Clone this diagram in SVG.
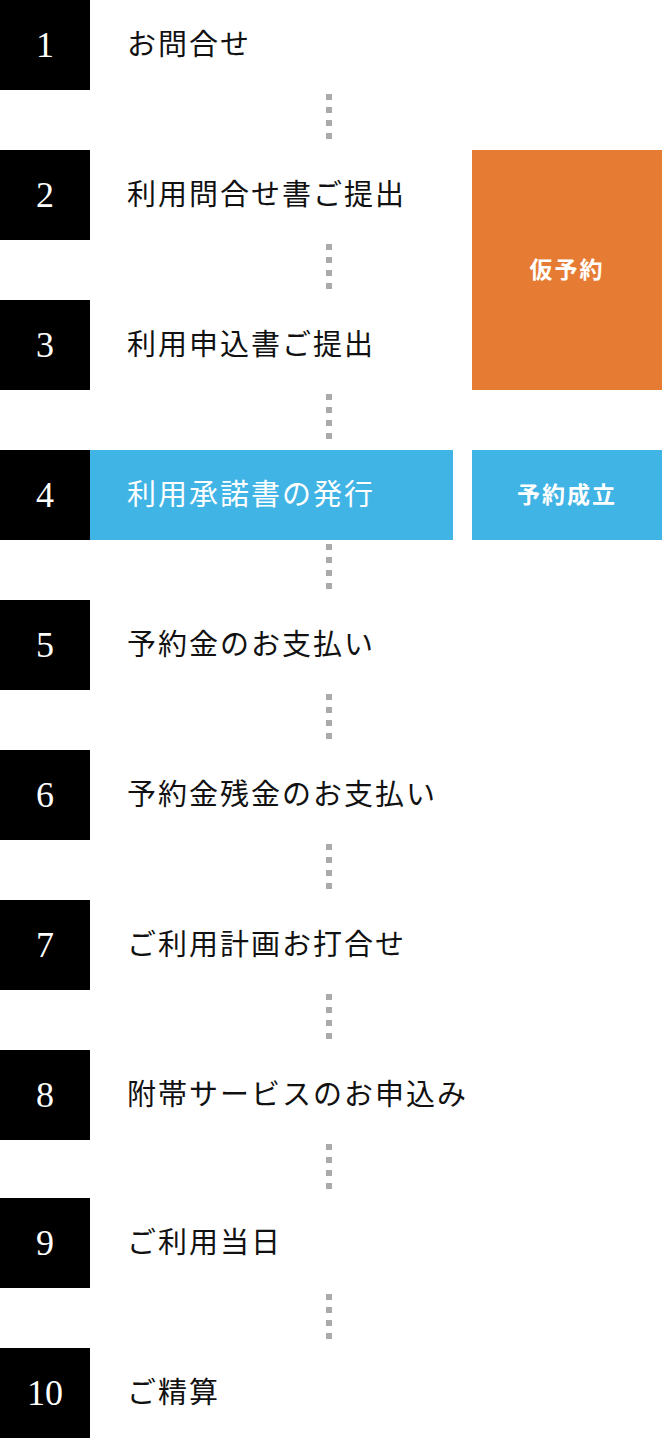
<svg xmlns="http://www.w3.org/2000/svg" width="662" height="1438" viewBox="0 0 662 1438">
<style>
.nb{fill:#000}
.num{font-family:"Liberation Serif",serif;font-size:36px;fill:#fff;text-anchor:middle}
.lb{font-family:"Noto Sans CJK JP",sans-serif;font-size:29px;fill:#111;letter-spacing:2px}
.tag{font-family:"Noto Sans CJK JP",sans-serif;font-size:23px;font-weight:bold;fill:#fff;text-anchor:middle;letter-spacing:2px}
.dot{stroke:#aaa;stroke-width:6;stroke-dasharray:6 7;fill:none}
</style>
<rect width="662" height="1438" fill="#fff"/>
<g id="connectors">
<line class="dot" x1="329" y1="94" x2="329" y2="146"/>
<line class="dot" x1="329" y1="244" x2="329" y2="296"/>
<line class="dot" x1="329" y1="394" x2="329" y2="446"/>
<line class="dot" x1="329" y1="544" x2="329" y2="596"/>
<line class="dot" x1="329" y1="694" x2="329" y2="746"/>
<line class="dot" x1="329" y1="844" x2="329" y2="896"/>
<line class="dot" x1="329" y1="994" x2="329" y2="1046"/>
<line class="dot" x1="329" y1="1144" x2="329" y2="1196"/>
<line class="dot" x1="329" y1="1294" x2="329" y2="1346"/>
</g>
<g id="tag-kari"><rect x="472" y="150" width="190" height="240" fill="#E67C34"/><text class="tag" x="567" y="278">仮予約</text></g>
<g id="tag-seiritsu"><rect x="472" y="450" width="190" height="90" fill="#41B4E6"/><text class="tag" x="567" y="503">予約成立</text></g>
<g id="step1"><rect class="nb" x="0" y="0" width="90" height="90"/><text class="num" x="45" y="57">1</text><text class="lb" x="127" y="55">お問合せ</text></g>
<g id="step2"><rect class="nb" x="0" y="150" width="90" height="90"/><text class="num" x="45" y="207">2</text><text class="lb" x="127" y="205">利用問合せ書ご提出</text></g>
<g id="step3"><rect class="nb" x="0" y="300" width="90" height="90"/><text class="num" x="45" y="357">3</text><text class="lb" x="127" y="355">利用申込書ご提出</text></g>
<g id="step4"><rect class="nb" x="0" y="450" width="90" height="90"/><rect x="90" y="450" width="363" height="90" fill="#41B4E6"/><text class="num" x="45" y="507">4</text><text class="lb" x="127" y="505" style="fill:#fff">利用承諾書の発行</text></g>
<g id="step5"><rect class="nb" x="0" y="600" width="90" height="90"/><text class="num" x="45" y="657">5</text><text class="lb" x="127" y="655">予約金のお支払い</text></g>
<g id="step6"><rect class="nb" x="0" y="750" width="90" height="90"/><text class="num" x="45" y="807">6</text><text class="lb" x="127" y="805">予約金残金のお支払い</text></g>
<g id="step7"><rect class="nb" x="0" y="900" width="90" height="90"/><text class="num" x="45" y="957">7</text><text class="lb" x="127" y="955">ご利用計画お打合せ</text></g>
<g id="step8"><rect class="nb" x="0" y="1050" width="90" height="90"/><text class="num" x="45" y="1107">8</text><text class="lb" x="127" y="1105">附帯サービスのお申込み</text></g>
<g id="step9"><rect class="nb" x="0" y="1198" width="90" height="90"/><text class="num" x="45" y="1255">9</text><text class="lb" x="127" y="1253">ご利用当日</text></g>
<g id="step10"><rect class="nb" x="0" y="1348" width="90" height="90"/><text class="num" x="45" y="1405">10</text><text class="lb" x="127" y="1403">ご精算</text></g>
</svg>
